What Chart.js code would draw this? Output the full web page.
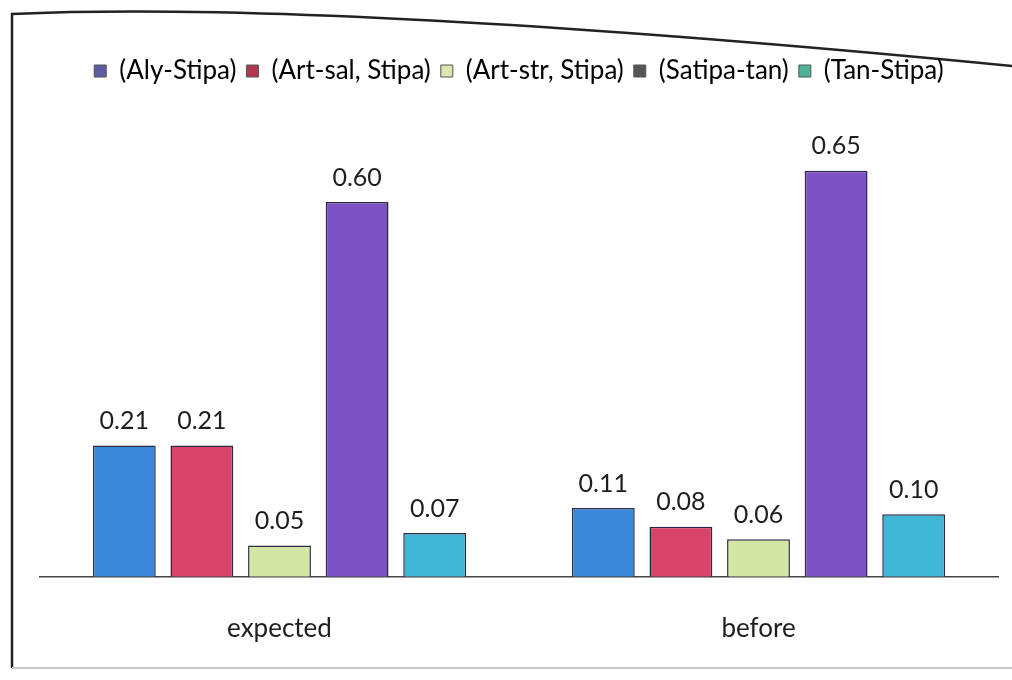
<!DOCTYPE html>
<html>
<head>
<meta charset="utf-8">
<script src="https://cdn.jsdelivr.net/npm/chart.js@4/dist/chart.umd.min.js"></script>
<style>
  html, body { margin: 0; padding: 0; background: #ffffff; }
  #wrap { width: 1012px; height: 680px; position: relative; }
</style>
</head>
<body>
<div id="wrap"><canvas id="c" width="1012" height="680"></canvas></div>
<script>
// Categories and series
const categories = ['expected', 'before'];
const seriesNames = ['(Aly-Stipa)', '(Art-sal, Stipa)', '(Art-str, Stipa)', '(Satipa-tan)', '(Tan-Stipa)'];
const alyStipa   = [0.21, 0.11];
const artSal     = [0.21, 0.08];
const artStr     = [0.05, 0.06];
const satipaTan  = [0.60, 0.65];
const tanStipa   = [0.07, 0.10];

// Bar fills and legend marker fills
const barColors    = ['#3b87d9', '#d9456a', '#d3e6a4', '#7d52c4', '#3fb6d6'];
const legendColors = ['#5d5ca3', '#b3364f', '#dfe4b0', '#555555', '#4fb19a'];
const values = [alyStipa, artSal, artStr, satipaTan, tanStipa];

const FONT = 'Lato, "Open Sans", sans-serif';

const datasets = seriesNames.map((name, i) => ({
  label: name,
  data: values[i],
  backgroundColor: barColors[i],
  borderColor: '#2a2a45',
  borderWidth: 1.5,
  categoryPercentage: 0.81,
  barPercentage: 0.81
}));

// Value labels above each bar
const valueLabels = {
  id: 'valueLabels',
  afterDatasetsDraw(chart) {
    const ctx = chart.ctx;
    ctx.save();
    ctx.font = '25px ' + FONT;
    ctx.fillStyle = '#1e1e1e';
    ctx.textAlign = 'center';
    ctx.textBaseline = 'bottom';
    chart.data.datasets.forEach((ds, di) => {
      chart.getDatasetMeta(di).data.forEach((bar, i) => {
        ctx.fillText(ds.data[i].toFixed(2), bar.x, bar.y - 12);
      });
    });
    ctx.restore();
  }
};

// Extra space between the legend and the bars
const legendGap = {
  id: 'legendGap',
  beforeLayout(chart) {
    const lg = chart.legend;
    if (lg && !lg._gapPatched) {
      const fit = lg.fit;
      lg.fit = function () { fit.call(this); this.height += 58; };
      lg._gapPatched = true;
    }
  }
};

// Page frame around the chart
const pageFrame = {
  id: 'pageFrame',
  beforeDraw(chart) {
    const ctx = chart.ctx;
    ctx.save();
    ctx.strokeStyle = '#222';
    ctx.lineWidth = 2.5;
    ctx.beginPath();
    ctx.moveTo(12, 668);
    ctx.lineTo(12, 14);
    ctx.quadraticCurveTo(330, 0, 1012, 66);
    ctx.stroke();
    ctx.strokeStyle = '#c8c8c8';
    ctx.lineWidth = 2;
    ctx.beginPath();
    ctx.moveTo(12, 668);
    ctx.lineTo(1012, 668);
    ctx.stroke();
    ctx.restore();
  }
};

new Chart(document.getElementById('c'), {
  type: 'bar',
  data: { labels: categories, datasets },
  plugins: [pageFrame, legendGap, valueLabels],
  options: {
    responsive: false,
    animation: false,
    layout: { padding: { top: 48, left: 40, right: 14, bottom: 0 } },
    plugins: {
      tooltip: { enabled: false },
      legend: {
        position: 'top',
        labels: {
          font: { family: FONT, size: 26 },
          color: '#1e1e1e',
          boxWidth: 12,
          boxHeight: 12,
          padding: 10,
          generateLabels(chart) {
            return chart.data.datasets.map((ds, i) => ({
              text: ds.label,
              fillStyle: legendColors[i],
              strokeStyle: '#555',
              lineWidth: 1,
              datasetIndex: i,
              hidden: false
            }));
          }
        }
      }
    },
    scales: {
      x: {
        grid: { display: false, drawTicks: false },
        border: { display: true, color: '#444', width: 1.5 },
        ticks: {
          font: { family: FONT, size: 26 },
          color: '#1e1e1e',
          padding: 36
        }
      },
      y: {
        display: false,
        min: 0,
        max: 0.68
      }
    }
  }
});
</script>
</body>
</html>
